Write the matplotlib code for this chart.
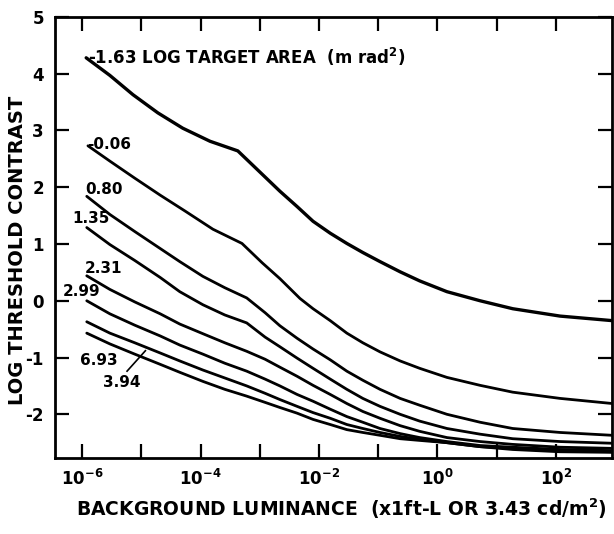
import numpy as np
import matplotlib
matplotlib.use("Agg")
import matplotlib.pyplot as plt

# log10 background luminance (ft-L) and log threshold contrast
labels = ["-1.63", "-0.06", "0.80", "1.35", "2.31", "2.99", "3.94", "6.93"]

# target area -1.63
lx_163 = [-5.93, -5.53, -5.14, -4.72, -4.30, -3.84, -3.37, -3.03, -2.66, -2.37, -2.10,
          -1.81, -1.53, -1.26, -0.97, -0.63, -0.30, 0.16, 0.72, 1.27, 2.07, 2.95]
ly_163 = [4.28, 3.97, 3.63, 3.31, 3.04, 2.81, 2.64, 2.30, 1.93, 1.66, 1.40,
          1.19, 1.01, 0.85, 0.69, 0.51, 0.35, 0.16, 0.00, -0.14, -0.27, -0.35]

# target area -0.06
lx_006 = [-5.90, -5.53, -5.11, -4.68, -4.26, -3.79, -3.30, -2.96, -2.66, -2.32, -2.10,
          -1.81, -1.53, -1.26, -0.97, -0.63, -0.30, 0.16, 0.72, 1.27, 2.07, 2.95]
ly_006 = [2.73, 2.46, 2.16, 1.86, 1.58, 1.26, 1.01, 0.67, 0.39, 0.04, -0.14,
          -0.35, -0.57, -0.74, -0.90, -1.06, -1.19, -1.35, -1.49, -1.61, -1.72, -1.81]

# the larger targets share one set of luminance readings
lx = [-5.92, -5.53, -5.11, -4.68, -4.35, -3.96, -3.59, -3.22, -2.91, -2.66, -2.37, -2.10,
      -1.81, -1.53, -1.26, -0.97, -0.63, -0.30, 0.16, 0.72, 1.27, 2.07, 2.95]
ly_080 = [1.84, 1.52, 1.22, 0.92, 0.69, 0.43, 0.23, 0.05, -0.21, -0.44, -0.66, -0.85,
          -1.04, -1.24, -1.40, -1.56, -1.72, -1.84, -2.00, -2.14, -2.25, -2.32, -2.37]
ly_135 = [1.29, 0.99, 0.71, 0.41, 0.16, -0.07, -0.25, -0.39, -0.64, -0.81, -1.01, -1.19,
          -1.38, -1.56, -1.72, -1.86, -2.00, -2.12, -2.25, -2.35, -2.43, -2.48, -2.51]
ly_231 = [0.44, 0.20, -0.02, -0.23, -0.41, -0.58, -0.74, -0.89, -1.03, -1.17, -1.33, -1.49,
          -1.65, -1.81, -1.95, -2.07, -2.20, -2.30, -2.41, -2.48, -2.53, -2.58, -2.60]
ly_299 = [0.00, -0.23, -0.43, -0.62, -0.78, -0.94, -1.10, -1.24, -1.38, -1.50, -1.65, -1.77,
          -1.91, -2.04, -2.14, -2.25, -2.34, -2.41, -2.48, -2.55, -2.58, -2.62, -2.64]
ly_394 = [-0.37, -0.57, -0.74, -0.92, -1.06, -1.22, -1.36, -1.50, -1.63, -1.74, -1.86, -1.97,
          -2.07, -2.18, -2.25, -2.32, -2.39, -2.44, -2.50, -2.57, -2.60, -2.64, -2.66]
ly_693 = [-0.57, -0.76, -0.94, -1.12, -1.26, -1.42, -1.56, -1.68, -1.79, -1.88, -1.98, -2.09,
          -2.18, -2.27, -2.32, -2.37, -2.43, -2.46, -2.50, -2.57, -2.62, -2.66, -2.67]

curves = [(lx_163, ly_163), (lx_006, ly_006), (lx, ly_080), (lx, ly_135),
          (lx, ly_231), (lx, ly_299), (lx, ly_394), (lx, ly_693)]

fig = plt.figure(figsize=(6.14, 5.34), dpi=100)
ax = fig.add_axes([0.0896, 0.1423, 0.907, 0.826])

for i, (x, y) in enumerate(curves):
    lw = 2.4 if i == 0 else 2.0
    ax.plot(np.power(10.0, x), y, color="black", lw=lw,
            solid_joinstyle="round", solid_capstyle="round")

ax.set_xscale("log")
ax.set_xlim(10 ** -6.456, 10 ** 2.945)
ax.set_ylim(-2.77, 5.0)

decades = np.arange(-6, 3)
ax.xaxis.set_major_locator(matplotlib.ticker.FixedLocator(10.0 ** decades))
ax.xaxis.set_minor_locator(matplotlib.ticker.NullLocator())
ax.set_xticklabels([r"$\mathbf{10^{%d}}$" % d if d % 2 == 0 else "" for d in decades])
ax.set_yticks(range(-2, 6))
ax.set_yticklabels([str(v) for v in range(-2, 6)], fontweight="bold")

ax.tick_params(direction="in", length=10, width=1.6, labelsize=12,
               top=True, right=True, pad=8)
for s in ax.spines.values():
    s.set_linewidth(2.0)

ax.set_ylabel("LOG THRESHOLD CONTRAST", fontsize=14, fontweight="bold")
ax.yaxis.set_label_coords(-0.05, 0.47)
ax.set_xlabel(r"BACKGROUND LUMINANCE  (x1ft-L OR 3.43 cd/m$\mathbf{^2}$)",
              fontsize=13.5, fontweight="bold")
ax.xaxis.set_label_coords(0.515, -0.088)

# curve labels
tk = dict(fontsize=11, fontweight="bold", va="center", ha="left")
ax.text(10 ** -5.9, 4.3, r"-1.63 LOG TARGET AREA  (m rad$\mathbf{^2}$)",
        fontsize=12, fontweight="bold", va="center", ha="left")
ax.text(10 ** -5.92, 2.76, labels[1], **tk)
ax.text(10 ** -5.95, 1.96, labels[2], **tk)
ax.text(10 ** -6.17, 1.45, labels[3], **tk)
ax.text(10 ** -5.95, 0.57, labels[4], **tk)
ax.text(10 ** -6.32, 0.16, labels[5], **tk)
ax.text(10 ** -6.03, -1.05, labels[7], **tk)
ax.text(10 ** -5.64, -1.44, labels[6], **tk)
ax.plot([10 ** -5.24, 10 ** -4.93], [-1.24, -0.88], color="black", lw=1.2)

fig.savefig("out.png", dpi=100)
